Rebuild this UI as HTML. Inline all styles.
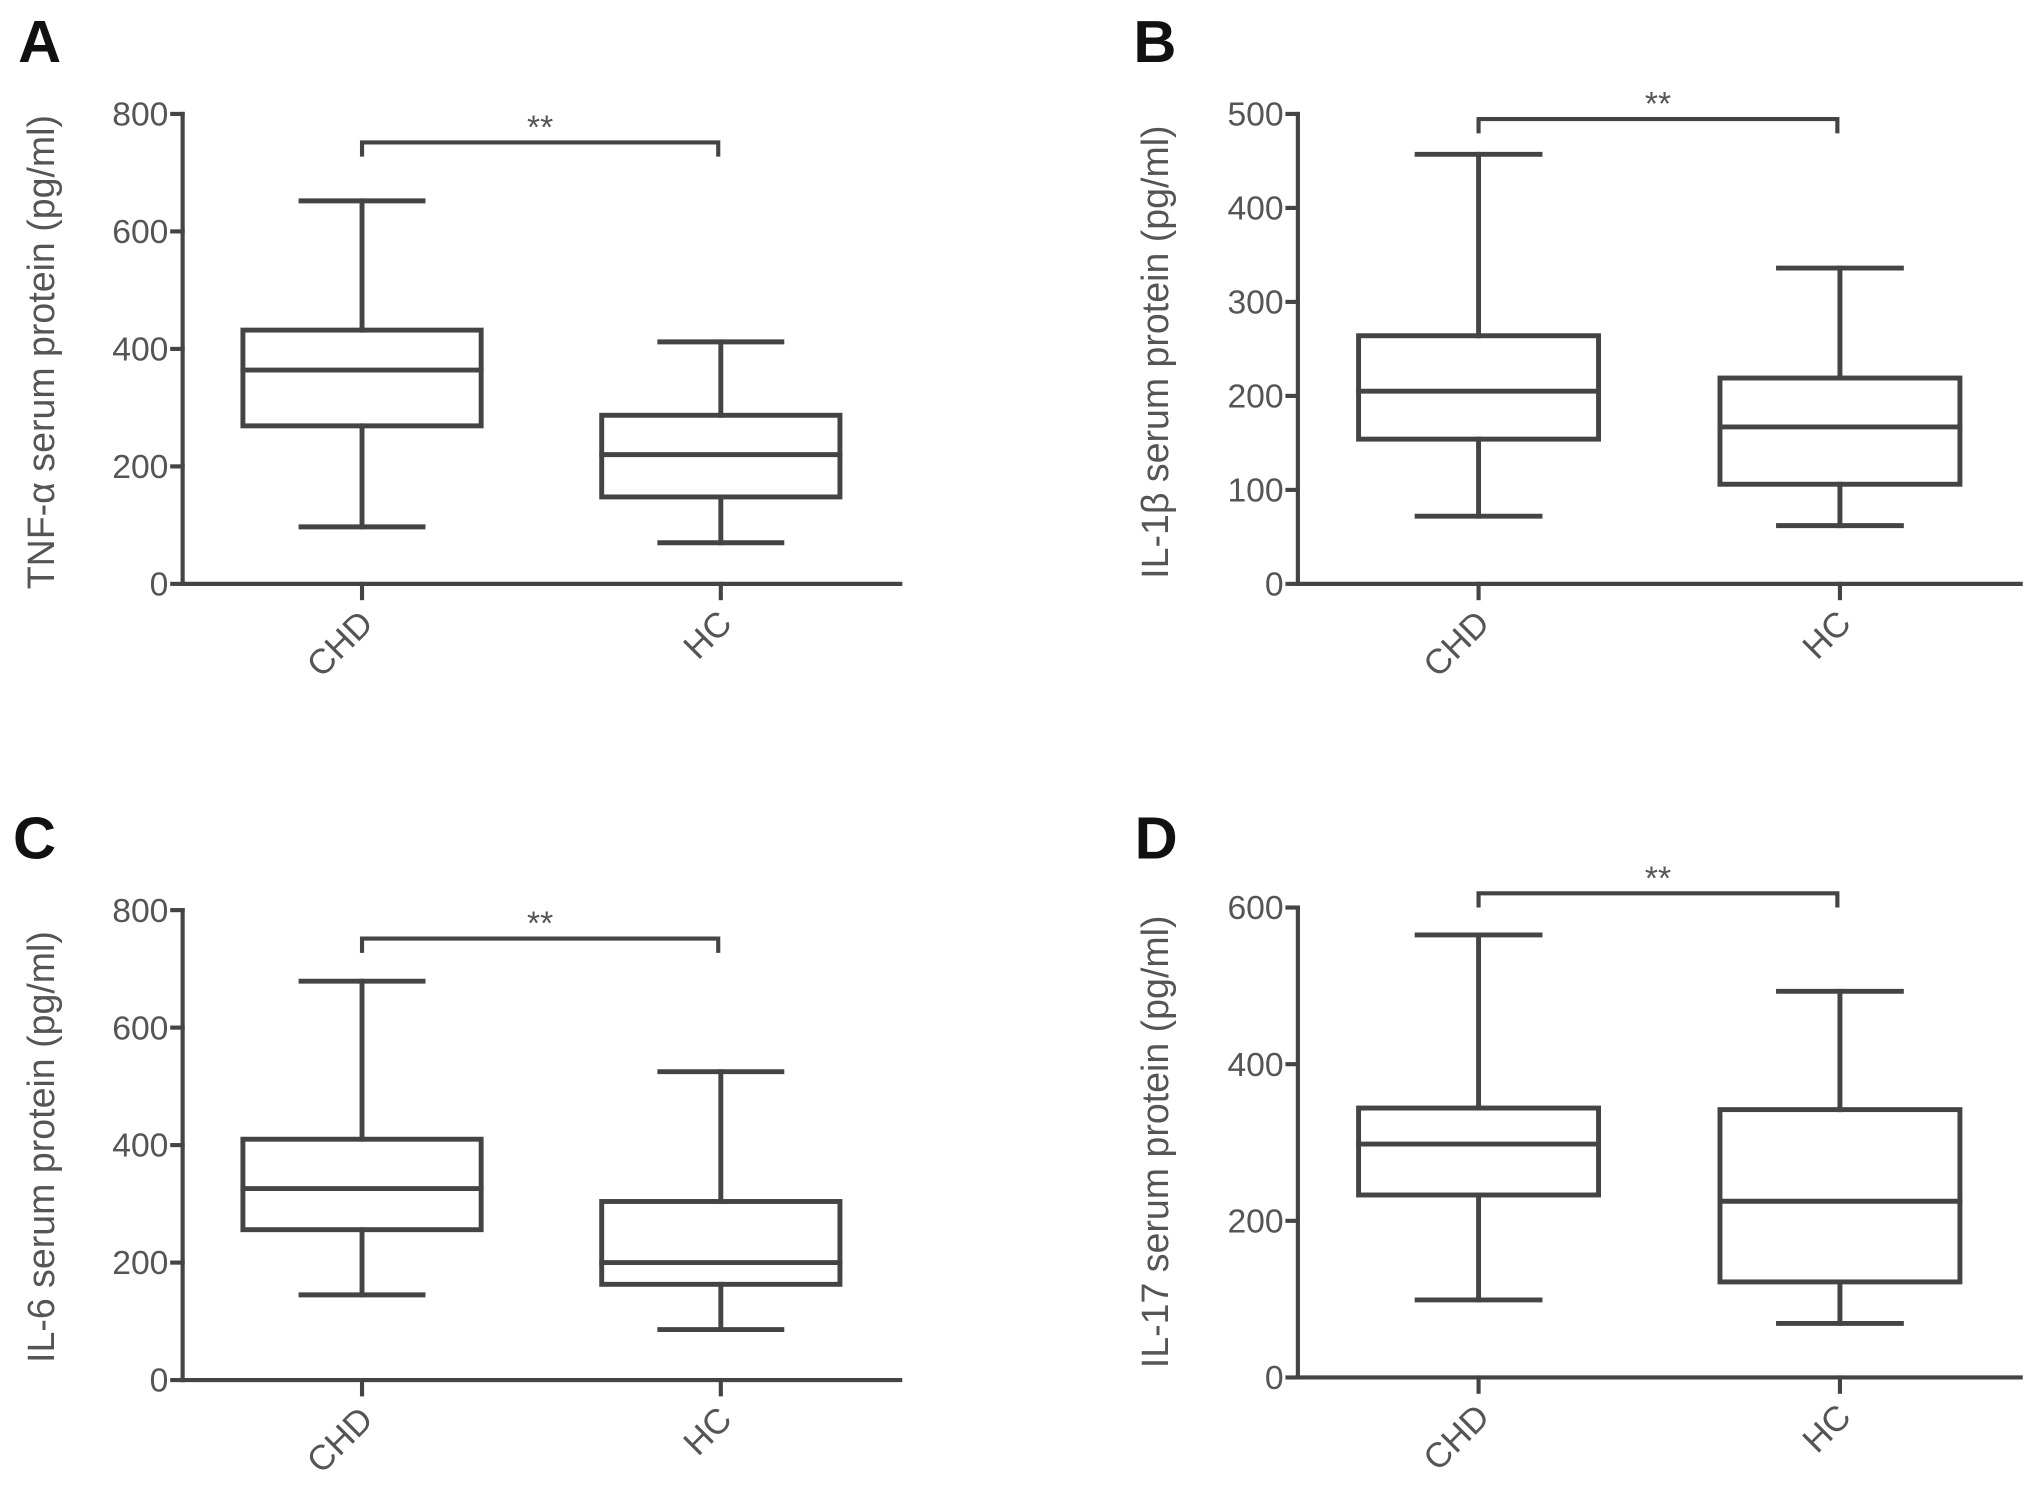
<!DOCTYPE html>
<html><head><meta charset="utf-8"><style>
html,body{margin:0;padding:0;background:#fff;}
svg{display:block;}
text{font-family:"Liberation Sans",sans-serif;}
</style></head><body>
<svg id="fig" width="2031" height="1494" viewBox="0 0 1568 1154" preserveAspectRatio="none"></svg>
<script>
const categories = ["CHD","HC"];
const panelLetters = ["A","B","C","D"];
const yTitles = ["TNF-\u03b1  serum protein (pg/ml)","IL-1\u03b2  serum protein (pg/ml)","IL-6 serum protein (pg/ml)","IL-17 serum protein (pg/ml)"];
const yMax = [800,500,800,600];
const yTicks = [[0,200,400,600,800],[0,100,200,300,400,500],[0,200,400,600,800],[0,200,400,600]];
// [min, q1, median, q3, max] per category
const statsA = [[97,269,364,432,652],[70,148,220,287,412]];
const statsB = [[72,154,205,264,457],[62,106,167,219,336]];
const statsC = [[145,256,326,410,679],[86,163,200,304,525]];
const statsD = [[99,233,298,344,565],[69,122,225,342,493]];
const allStats = [statsA,statsB,statsC,statsD];
const sigLabels = ["**","**","**","**"];

const NS="http://www.w3.org/2000/svg";
const svg=document.getElementById('fig');
const layout=[
 {ax:141,xEnd:695,y0:451,yTop:88,lx:14,ly:48,tx:34,ty:272,br:110},
 {ax:1002,xEnd:1560,y0:451,yTop:88,lx:875,ly:48,tx:894,ty:272,br:92},
 {ax:141,xEnd:695,y0:1066,yTop:703,lx:10,ly:663,tx:34,ty:886,br:725},
 {ax:1002,xEnd:1560,y0:1064,yTop:701,lx:876,ly:663,tx:894,ty:882,br:690}
];
const C="#444";
function el(tag,attrs,parent){const e=document.createElementNS(NS,tag);for(const k in attrs)e.setAttribute(k,attrs[k]);(parent||svg).appendChild(e);return e;}
function line(p,x1,y1,x2,y2,w){return el('line',{x1,y1,x2,y2,stroke:C,'stroke-width':w||3.8,'stroke-linecap':'square'},p);}

layout.forEach((L,i)=>{
  const g=el('g',{});
  
  
  const y=v=>L.y0-(v/yMax[i])*(L.y0-L.yTop);
  const span=L.xEnd-L.ax;
  const xc=k=>L.ax+span*(0.25+0.5*k);
  const lt=el('text',{x:L.lx,y:L.ly,'font-size':46,'font-weight':'bold',fill:'#111'},g);
  lt.textContent=panelLetters[i];
  
  
  const ya=line(g,L.ax,L.yTop,L.ax,L.y0,3.2);
  
  
  const xa=line(g,L.ax,L.y0,L.xEnd,L.y0,3.2);
  
  
  yTicks[i].forEach(t=>{
    line(g,L.ax-8,y(t),L.ax,y(t),3.2);
    const tt=el('text',{x:L.ax-11,y:y(t)+9,'font-size':26,'text-anchor':'end',fill:'#555'},g);
    tt.textContent=t;
    
    
  });
  const yt=el('text',{x:L.tx,y:L.ty,'font-size':29,'text-anchor':'middle',fill:'#555',transform:`rotate(-90 ${L.tx} ${L.ty})`,'dominant-baseline':'middle'},g);
  yt.textContent=yTitles[i];
  
  
  const bw=span*0.166, cw=span*0.085;
  categories.forEach((c,k)=>{
    const cx=xc(k), s=allStats[i][k];
    line(g,cx,L.y0,cx,L.y0+11,3.2);
    const xt=el('text',{x:cx+10,y:L.y0+32,'font-size':27,'text-anchor':'end',fill:'#555',transform:`rotate(-45 ${cx+10} ${L.y0+32})`},g);
    xt.textContent=c;
    
    
    const bg=el('g',{},g);
    
    
    line(bg,cx,y(s[0]),cx,y(s[1]));
    line(bg,cx,y(s[3]),cx,y(s[4]));
    line(bg,cx-cw,y(s[0]),cx+cw,y(s[0]));
    line(bg,cx-cw,y(s[4]),cx+cw,y(s[4]));
    el('rect',{x:cx-bw,y:y(s[3]),width:2*bw,height:y(s[1])-y(s[3]),fill:'none',stroke:C,'stroke-width':3.8},bg);
    line(bg,cx-bw,y(s[2]),cx+bw,y(s[2]));
  });
  const x1=xc(0), x2=xc(1)-2;
  const br=el('path',{d:`M${x1} ${L.br+11} V${L.br} H${x2} V${L.br+11}`,fill:'none',stroke:C,'stroke-width':3.2},g);
  
  
  const st=el('text',{x:(x1+x2)/2,y:L.br-3,'font-size':26,'text-anchor':'middle',fill:'#555'},g);
  st.textContent=sigLabels[i];
  
  
});
</script>
</body></html>
